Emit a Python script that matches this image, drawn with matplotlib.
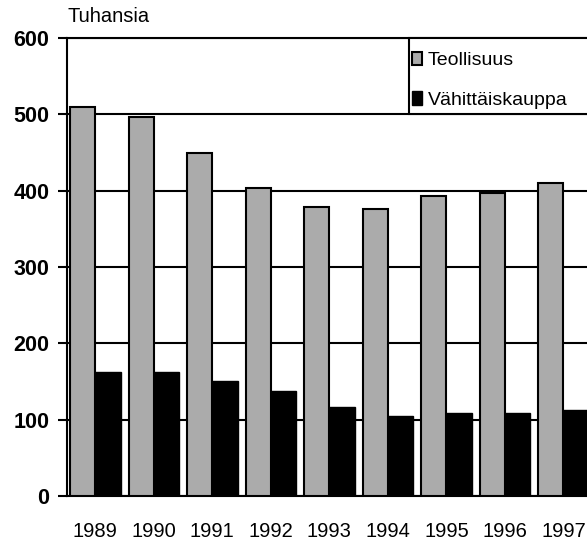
import matplotlib
matplotlib.use("Agg")
import matplotlib.pyplot as plt
from matplotlib.patches import Rectangle
import numpy as np

# data (thousands)
years = ["1989", "1990", "1991", "1992", "1993", "1994", "1995", "1996", "1997"]
teollisuus = [510, 496, 449, 404, 379, 376, 393, 397, 410]
vahittaiskauppa = [163, 162, 151, 137, 116, 105, 109, 109, 113]
yticks = [0, 100, 200, 300, 400, 500, 600]

plt.rcParams['font.family'] = ['Liberation Sans', 'DejaVu Sans']

fig = plt.figure(figsize=(5.87, 5.42), dpi=100)
ax = fig.add_axes([0.1136, 0.0849, 0.897, 0.845])

x = np.arange(len(years))
w = 0.43
ax.bar(x - w, teollisuus, w, align='edge', color='#ababab', edgecolor='black',
       linewidth=1.5, zorder=3, label='Teollisuus')
ax.bar(x, vahittaiskauppa, w, align='edge', color='black', edgecolor='black',
       linewidth=1.0, zorder=3, label='Vähittäiskauppa')

ax.set_xlim(-0.49, 8.51)
ax.set_ylim(0, 600)
ax.set_yticks(yticks)
ax.set_yticklabels([str(t) for t in yticks], fontsize=15.5, fontweight='bold')
ax.set_xticks(x)
ax.set_xticklabels(years, fontsize=14.5)
ax.tick_params(axis='x', length=0, pad=19)
ax.tick_params(axis='y', direction='out', length=6.5, width=1.5, pad=6)
ax.yaxis.grid(True, color='black', linewidth=1.5, zorder=0)
ax.set_axisbelow(True)

for s in ['left', 'top', 'bottom']:
    ax.spines[s].set_linewidth(1.5)
    ax.spines[s].set_color('black')
ax.spines['right'].set_visible(False)

fig.text(68 / 587, 1 - 17 / 542, "Tuhansia", fontsize=14.5, va='center', ha='left')

# legend box fills the top right cell, running off the right edge
box = Rectangle((0.65, 5 / 6), 0.5, 1 / 6, transform=ax.transAxes,
                facecolor='white', edgecolor='black', linewidth=1.5,
                zorder=4, clip_on=False)
ax.add_patch(box)

leg = ax.legend(loc='upper left', bbox_to_anchor=(0.655, 0.970),
                fontsize=14, frameon=False,
                borderaxespad=0, borderpad=0, labelspacing=1.12,
                handlelength=0.55, handleheight=0.7, handletextpad=0.3)
leg.set_zorder(5)

fig.savefig('out.png', dpi=100)
